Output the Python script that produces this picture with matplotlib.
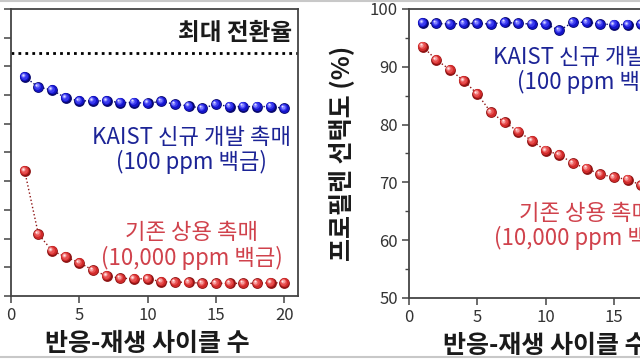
#!/usr/bin/env python3
"""
Two-panel cycle stability chart: conversion and propylene selectivity vs. cycles.
"""

import matplotlib
matplotlib.use("Agg")
import matplotlib.pyplot as plt
from matplotlib.transforms import offset_copy
from matplotlib.lines import Line2D

plt.rcParams['font.family'] = ['Noto Sans CJK KR', 'DejaVu Sans']

# -------------------------------------------------------------
# Data
# -------------------------------------------------------------
cycles = list(range(1, 21))

# left panel: conversion (axis labels are cropped out in the source)
conv_kaist = [38.2, 36.4, 35.9, 34.5, 34.0, 34.0, 34.0, 33.7, 33.7, 33.6,
              33.9, 33.4, 33.1, 32.7, 33.4, 33.0, 33.0, 33.0, 33.0, 32.7]
conv_comm = [21.8, 10.8, 7.9, 6.8, 5.8, 4.5, 3.5, 3.1, 3.0, 3.0,
             2.5, 2.4, 2.4, 2.2, 2.2, 2.2, 2.2, 2.2, 2.3, 2.3]
conv_max = 42.3

# right panel: propylene selectivity (%)
sel_kaist = [97.6, 97.5, 97.4, 97.5, 97.5, 97.4, 97.7, 97.5, 97.4, 97.4,
             96.3, 97.7, 97.7, 97.4, 97.3, 97.3, 97.4, 97.4, 97.4, 97.4]
sel_comm = [93.5, 91.2, 89.5, 87.6, 85.3, 82.1, 80.4, 78.8, 77.2, 75.5,
            74.8, 73.3, 72.4, 71.4, 70.9, 70.5, 69.5, 69.0, 68.6, 68.2]

xlabel = "반응-재생 사이클 수"
ylabel_right = "프로필렌 선택도 (%)"
label_kaist = "KAIST 신규 개발 촉매\n(100 ppm 백금)"
label_comm = "기존 상용 촉매\n(10,000 ppm 백금)"
label_max = "최대 전환율"

BLUE = ['#08086e', '#1414c8', '#3a3af0', '#8080ff', '#dcdcff']
RED = ['#8e1414', '#d02a2a', '#e85050', '#f59a9a', '#ffe6e6']
TXT_BLUE = '#1c2496'
TXT_RED = '#d0424c'


def draw_balls(ax, fig, x, y, shades):
    # dotted connector + layered circles to fake a shaded sphere
    ax.plot(x, y, ':', color=shades[0], lw=1.0, zorder=2)
    sizes = [7.8, 6.6, 4.9, 3.0, 1.4]
    offs = [0.0, -0.35, -0.8, -1.2, -1.5]
    for s, o, c in zip(sizes, offs, shades):
        tr = offset_copy(ax.transData, fig=fig, x=o, y=-o, units='points')
        ax.plot(x, y, 'o', ms=s, mfc=c, mec='none', transform=tr, zorder=3)


def style_axes(ax):
    for sp in ax.spines.values():
        sp.set_color('#444444')
        sp.set_linewidth(1.3)
    ax.tick_params(direction='out', length=5, width=1.1, color='#444444',
                   labelsize=12, labelcolor='#333333', pad=3)
    ax.tick_params(which='minor', direction='out', length=3, width=1.0,
                   color='#444444')
    ax.set_xlim(0, 21)
    ax.set_xticks([0, 5, 10, 15, 20])


fig = plt.figure(figsize=(6.4, 3.6), dpi=100)

# -------------------------------------------------------------
# Left panel
# -------------------------------------------------------------
ax1 = fig.add_axes([11 / 640, 64 / 360, 287 / 640, 287 / 360])
style_axes(ax1)
ax1.set_ylim(0, 50)
ax1.set_yticks(range(0, 51, 5))
ax1.tick_params(axis='y', labelleft=False)
ax1.axhline(conv_max, color='black', ls=(0, (1, 1.5)), lw=2.0, zorder=1)
draw_balls(ax1, fig, cycles, conv_comm, RED)
draw_balls(ax1, fig, cycles, conv_kaist, BLUE)
ax1.text(20.6, 45.8, label_max, ha='right', va='center', fontsize=17,
         color='#1a1a1a', fontweight='bold')
ax1.text(13.2, 25.4, label_kaist, ha='center', va='center', fontsize=16,
         color=TXT_BLUE, linespacing=1.05, fontweight='medium')
ax1.text(13.2, 8.8, label_comm, ha='center', va='center', fontsize=16,
         color=TXT_RED, linespacing=1.05, fontweight='medium')
ax1.set_xlabel(xlabel, fontsize=18, fontweight='bold', color='#1a1a1a')
ax1.xaxis.set_label_coords(0.475, -0.125)

# -------------------------------------------------------------
# Right panel (cropped on the right side)
# -------------------------------------------------------------
ax2 = fig.add_axes([409 / 640, 62 / 360, 287 / 640, 289 / 360])
style_axes(ax2)
ax2.set_ylim(50, 100)
ax2.set_yticks(range(50, 101, 10))
ax2.set_yticks(range(55, 100, 10), minor=True)
draw_balls(ax2, fig, cycles, sel_comm, RED)
draw_balls(ax2, fig, cycles, sel_kaist, BLUE)
ax2.text(13.4, 89.5, label_kaist, ha='center', va='center', fontsize=16,
         color=TXT_BLUE, linespacing=1.05, fontweight='medium')
ax2.text(12.9, 62.4, label_comm, ha='center', va='center', fontsize=16,
         color=TXT_RED, linespacing=1.05, fontweight='medium')
ax2.set_xlabel(xlabel, fontsize=18, fontweight='bold', color='#1a1a1a')
ax2.xaxis.set_label_coords(0.475, -0.125)
ax2.set_ylabel(ylabel_right, fontsize=18, fontweight='bold', color='#1a1a1a')
ax2.yaxis.set_label_coords(-0.19, 0.5)

# thin frame lines of the original screenshot
fig.add_artist(Line2D([0, 1], [0.996, 0.996], color='#c8c8c8', lw=1.5))
fig.add_artist(Line2D([0, 1], [0.008, 0.008], color='#c8c8c8', lw=1.5))

fig.savefig("out.png", dpi=100)
